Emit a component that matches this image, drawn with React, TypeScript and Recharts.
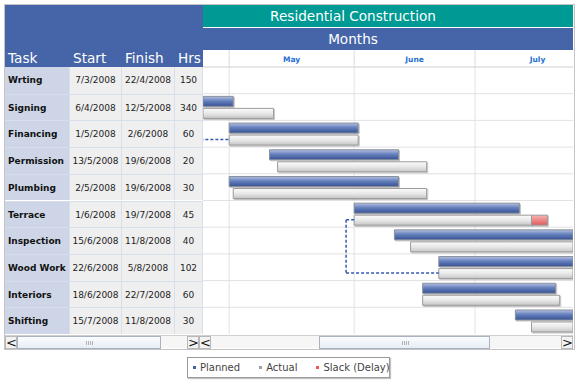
import React from "react";
import {
  ComposedChart,
  Bar,
  XAxis,
  YAxis,
  CartesianGrid,
  ReferenceLine,
  Legend,
} from "recharts";

const tasks = ["Wrting", "Signing", "Financing", "Permission", "Plumbing", "Terrace", "Inspection", "Wood Work", "Interiors", "Shifting"];
// table dates are the actual dates
const startDates = ["7/3/2008", "6/4/2008", "1/5/2008", "13/5/2008", "2/5/2008", "1/6/2008", "15/6/2008", "22/6/2008", "18/6/2008", "15/7/2008"];
const finishDates = ["22/4/2008", "12/5/2008", "2/6/2008", "19/6/2008", "19/6/2008", "19/7/2008", "11/8/2008", "5/8/2008", "22/7/2008", "11/8/2008"];
const hours = [150, 340, 60, 20, 30, 45, 40, 102, 60, 30];
const plannedStart = ["7/3/2008", "6/4/2008", "1/5/2008", "11/5/2008", "1/5/2008", "1/6/2008", "11/6/2008", "22/6/2008", "18/6/2008", "11/7/2008"];
const plannedEnd = ["22/4/2008", "2/5/2008", "2/6/2008", "12/6/2008", "12/6/2008", "12/7/2008", "5/8/2008", "1/8/2008", "21/7/2008", "8/8/2008"];
const slackStart = [null, null, null, null, null, "15/7/2008", null, null, null, null];
const connectors = [["Signing", "Financing"], ["Terrace", "Wood Work"]];

const monthNames = ["May", "June", "July"];
const monthStarts = ["1/5/2008", "1/6/2008", "1/7/2008", "1/8/2008"];
// visible part of the scrolled timeline, day of year
const viewRange = [115.5, 207.3];

const legendOrder = ["Planned", "Actual", "Slack (Delay)"];

const FONT = "'DejaVu Sans', Verdana, sans-serif";
const BLUE = "#4665a8";
const TEAL = "#009a94";
const PLOT_TOP = 67;
const PLOT_BOTTOM = 334;
const ROW_H = (PLOT_BOTTOM - PLOT_TOP) / tasks.length;
// the actual bar sits below the row centre
const ACTUAL_SHIFT = 0.22 * ROW_H;
const LEAD_DAYS = 2;

const cols = [
  { label: "Task", x: 5, w: 65 },
  { label: "Start", x: 70, w: 52 },
  { label: "Finish", x: 122, w: 53 },
  { label: "Hrs", x: 175, w: 28 },
];

const SWATCH: Record<string, string> = {
  Planned: "#4463a7",
  Actual: "#a0a0a0",
  "Slack (Delay)": "#f2555b",
};

function day(s: string) {
  const [d, m, y] = s.split("/").map(Number);
  return (Date.UTC(y, m - 1, d) - Date.UTC(y, 0, 1)) / 864e5 + 1;
}

const monthDays = monthStarts.map(day);
const monthTicks: number[] = [];
monthNames.forEach((_, i) => {
  monthTicks.push(monthDays[i], (monthDays[i] + monthDays[i + 1]) / 2);
});

const rows = tasks.map((task, i) => {
  const ps = day(plannedStart[i]);
  const as = day(startDates[i]);
  const ae = day(finishDates[i]);
  const ss = slackStart[i] ? day(slackStart[i] as string) : ae;
  return {
    task,
    pOff: ps,
    planned: day(plannedEnd[i]) - ps,
    aOff: as,
    actual: ss - as,
    slack: ae - ss,
  };
});

function scaleOf(axis: any, v: any) {
  const s = axis?.scale;
  if (typeof s === "function") return s(v);
  if (s && typeof s.map === "function") return s.map(v);
  return NaN;
}

function MonthTick(props: any) {
  const { x, y, payload } = props;
  const i = monthTicks.indexOf(payload.value);
  if (i % 2 === 0) {
    return <line x1={x} x2={x} y1={y} y2={y - 17} stroke="#dadada" />;
  }
  return (
    <text x={x} y={y - 5} textAnchor="middle" fill="#1f6fd2" fontSize={7.5} fontWeight="bold" fontFamily={FONT}>
      {monthNames[(i - 1) / 2]}
    </text>
  );
}

function LegendBox(props: any) {
  const items = (props.payload || [])
    .filter((p: any) => p.type !== "none" && legendOrder.includes(p.value))
    .sort((a: any, b: any) => legendOrder.indexOf(a.value) - legendOrder.indexOf(b.value));
  return (
    <div
      style={{
        width: 203,
        height: 21,
        boxSizing: "border-box",
        border: "1px solid #9a9a9a",
        boxShadow: "1px 1px 1px #c4c4c4",
        background: "#fff",
        display: "flex",
        alignItems: "center",
        paddingLeft: 5,
        fontFamily: FONT,
        fontSize: 10,
        color: "#444",
        whiteSpace: "nowrap",
      }}
    >
      {items.map((p: any) => (
        <span key={p.value} style={{ display: "flex", alignItems: "center", marginRight: 19, flexShrink: 0 }}>
          <span style={{ width: 3, height: 3, background: SWATCH[p.value], marginRight: 4 }} />
          {p.value}
        </span>
      ))}
    </div>
  );
}

function ScrollBar({ x, w, thumbX, thumbW }: { x: number; w: number; thumbX: number; thumbW: number }) {
  const btn = (left: number, ch: string) => (
    <div
      style={{
        position: "absolute",
        left,
        top: 0,
        width: 12,
        height: 13,
        boxSizing: "border-box",
        border: "1px solid #b8b8b8",
        background: "#f2f2f2",
        fontSize: 13,
        lineHeight: "11px",
        textAlign: "center",
        color: "#111",
        fontFamily: FONT,
      }}
    >
      {ch}
    </div>
  );
  return (
    <div style={{ position: "absolute", left: x, top: 335, width: w, height: 13, background: "#f6f6f6", borderTop: "1px solid #d0d0d0", boxSizing: "border-box" }}>
      {btn(0, "<")}
      <div
        style={{
          position: "absolute",
          left: thumbX - x,
          top: 0,
          width: thumbW,
          height: 13,
          boxSizing: "border-box",
          border: "1px solid #a9b3c0",
          background: "linear-gradient(#fbfdff, #e6edf5)",
        }}
      >
        <div
          style={{
            position: "absolute",
            left: thumbW / 2 - 4,
            top: 4,
            width: 8,
            height: 4,
            background: "repeating-linear-gradient(90deg, #b4b4b4 0 1px, transparent 1px 2px)",
          }}
        />
      </div>
      {btn(w - 12, ">")}
    </div>
  );
}

export default function App() {
  return (
    <div style={{ position: "absolute", left: 0, top: 0, width: 580, height: 384, background: "#fff", fontFamily: FONT }}>
      <div style={{ position: "absolute", left: 4, top: 4, width: 571, height: 346, border: "1px solid #c4c4c4", boxSizing: "border-box" }} />
      <div style={{ position: "absolute", left: 5, top: 5, width: 198, height: 62, background: BLUE }} />
      <div style={{ position: "absolute", left: 203, top: 5, width: 370, height: 22, background: TEAL }} />
      <div style={{ position: "absolute", left: 203, top: 28, width: 370, height: 22, background: BLUE }} />
      <div style={{ position: "absolute", left: 203, top: 5, width: 300, height: 22, lineHeight: "22px", textAlign: "center", color: "#fff", fontSize: 13.6 }}>
        Residential Construction
      </div>
      <div style={{ position: "absolute", left: 203, top: 28, width: 300, height: 22, lineHeight: "22px", textAlign: "center", color: "#fff", fontSize: 13.6 }}>
        Months
      </div>
      {cols.map((c) => (
        <div key={c.label} style={{ position: "absolute", left: c.x + 3, top: 50, height: 16, lineHeight: "16px", color: "#fff", fontSize: 13.6 }}>
          {c.label}
        </div>
      ))}
      {tasks.map((task, i) => {
        const cells = [task, startDates[i], finishDates[i], String(hours[i])];
        return cols.map((c, j) => (
          <div
            key={`${i}-${j}`}
            style={{
              position: "absolute",
              left: c.x,
              top: PLOT_TOP + i * ROW_H,
              width: c.w,
              height: ROW_H,
              boxSizing: "border-box",
              background: j === 0 ? "#cdd5e6" : "#efefef",
              borderTop: i === 0 ? "none" : "1px solid #d8dfec",
              borderRight: "1px solid #d8dfec",
              lineHeight: `${ROW_H}px`,
              fontSize: 9,
              fontWeight: j === 0 ? "bold" : "normal",
              color: j === 0 ? "#111" : "#222",
              textAlign: j === 0 ? "left" : "center",
              paddingLeft: j === 0 ? 3 : 0,
              whiteSpace: "nowrap",
            }}
          >
            {cells[j]}
          </div>
        ));
      })}
      <div style={{ position: "absolute", left: 0, top: 0 }}>
        <ComposedChart
          width={580}
          height={384}
          data={rows}
          layout="vertical"
          margin={{ top: 50, right: 7, bottom: 50, left: 203 }}
          barCategoryGap="10%"
          barGap={2}
        >
          <defs>
            <linearGradient id="gPlanned" x1="0" y1="0" x2="0" y2="1">
              <stop offset="0" stopColor="#b3c1e3" />
              <stop offset="0.45" stopColor="#6680bd" />
              <stop offset="1" stopColor="#365193" />
            </linearGradient>
            <linearGradient id="gActual" x1="0" y1="0" x2="0" y2="1">
              <stop offset="0" stopColor="#fbfbfb" />
              <stop offset="0.5" stopColor="#e8e8e8" />
              <stop offset="1" stopColor="#c6c6c6" />
            </linearGradient>
            <linearGradient id="gSlack" x1="0" y1="0" x2="0" y2="1">
              <stop offset="0" stopColor="#f9b4b4" />
              <stop offset="1" stopColor="#e05a5c" />
            </linearGradient>
            <filter id="barShadow" x="-5%" y="-30%" width="110%" height="180%">
              <feDropShadow dx="1" dy="1" stdDeviation="0.5" floodColor="#000" floodOpacity="0.25" />
            </filter>
          </defs>
          <CartesianGrid
            stroke="#e2e2e2"
            horizontalCoordinatesGenerator={({ yAxis, offset }: any) =>
              tasks.slice(1).map((t, i) => {
                const v = scaleOf(yAxis, t);
                return Number.isFinite(v) ? v : offset.top + ((i + 1) * offset.height) / tasks.length;
              })
            }
            verticalCoordinatesGenerator={({ xAxis }: any) =>
              monthDays.filter((d) => d > viewRange[0] && d < viewRange[1]).map((d) => scaleOf(xAxis, d))
            }
          />
          <XAxis
            type="number"
            orientation="top"
            height={17}
            domain={viewRange}
            allowDataOverflow
            ticks={monthTicks}
            interval={0}
            tickSize={0}
            tickMargin={0}
            tickLine={false}
            tick={<MonthTick />}
            axisLine={{ stroke: "#cfcfcf" }}
          />
          <YAxis type="category" dataKey="task" hide />
          <Bar dataKey="pOff" stackId="p" fill="transparent" legendType="none" isAnimationActive={false} />
          <Bar dataKey="planned" name="Planned" stackId="p" fill="url(#gPlanned)" stroke="#8a8f9a" filter="url(#barShadow)" isAnimationActive={false} />
          <Bar dataKey="aOff" stackId="a" fill="transparent" legendType="none" isAnimationActive={false} />
          <Bar dataKey="actual" name="Actual" stackId="a" fill="url(#gActual)" stroke="#9c9c9c" filter="url(#barShadow)" isAnimationActive={false} />
          <Bar dataKey="slack" name="Slack (Delay)" stackId="a" fill="url(#gSlack)" stroke="#9c9c9c" filter="url(#barShadow)" isAnimationActive={false} />
          {connectors.flatMap(([a, b], k) => {
            const xa = day(startDates[tasks.indexOf(a)]);
            const xb = day(startDates[tasks.indexOf(b)]);
            const bend = xa - LEAD_DAYS;
            const segs = [
              [{ x: xa, y: a }, { x: bend, y: a }],
              [{ x: bend, y: a }, { x: bend, y: b }],
              [{ x: bend, y: b }, { x: xb, y: b }],
            ];
            return segs.map((segment, j) => (
              <ReferenceLine
                key={`${k}-${j}`}
                segment={segment}
                position="middle"
                ifOverflow="hidden"
                transform={`translate(0, ${ACTUAL_SHIFT})`}
                stroke="#3658b3"
                strokeWidth={1.5}
                strokeDasharray="3 2"
              />
            ));
          })}
          <Legend
            layout="horizontal"
            verticalAlign="middle"
            align="center"
            wrapperStyle={{ left: 187, top: 357, width: 203, height: 21 }}
            content={LegendBox}
          />
        </ComposedChart>
      </div>
      <ScrollBar x={5} w={194} thumbX={17} thumbW={144} />
      <ScrollBar x={199} w={374} thumbX={319} thumbW={171} />
    </div>
  );
}
